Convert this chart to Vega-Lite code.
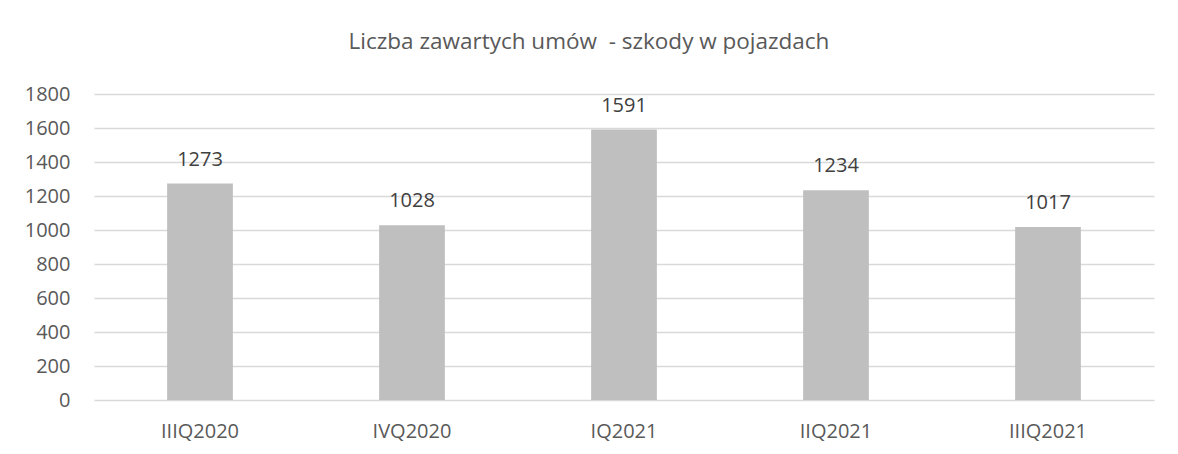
{
  "$schema": "https://vega.github.io/schema/vega-lite/v6.json",
  "autosize": {"type": "none"},
  "width": 1060,
  "height": 306,
  "padding": {"left": 94, "top": 94, "right": 24, "bottom": 54},
  "background": "white",
  "title": {
    "text": "Liczba zawartych umów \u00a0- szkody w pojazdach",
    "anchor": "middle",
    "frame": "group",
    "dx": -35,
    "offset": 31,
    "font": "Open Sans",
    "fontSize": 22.5,
    "fontWeight": "normal",
    "color": "#595959"
  },
  "data": {
    "values": [
      {"kwartal": "IIIQ2020", "liczba": 1273},
      {"kwartal": "IVQ2020", "liczba": 1028},
      {"kwartal": "IQ2021", "liczba": 1591},
      {"kwartal": "IIQ2021", "liczba": 1234},
      {"kwartal": "IIIQ2021", "liczba": 1017}
    ]
  },
  "encoding": {
    "x": {
      "field": "kwartal",
      "type": "nominal",
      "sort": null,
      "scale": {"paddingInner": 0.69, "paddingOuter": 0.345},
      "axis": {
        "title": null,
        "labelAngle": 0,
        "domain": false,
        "ticks": false,
        "labelPadding": 21,
        "labelFont": "Open Sans",
        "labelFontSize": 20,
        "labelColor": "#595959"
      }
    },
    "y": {
      "field": "liczba",
      "type": "quantitative",
      "scale": {"domain": [0, 1800], "nice": false},
      "axis": {
        "title": null,
        "values": [0, 200, 400, 600, 800, 1000, 1200, 1400, 1600, 1800],
        "format": "d",
        "domain": false,
        "ticks": false,
        "labelPadding": 24,
        "labelFont": "Open Sans",
        "labelFontSize": 20,
        "labelColor": "#595959",
        "gridColor": "#D9D9D9",
        "gridWidth": 1.3
      }
    }
  },
  "layer": [
    {"mark": {"type": "bar", "color": "#BFBFBF"}},
    {
      "mark": {
        "type": "text",
        "baseline": "alphabetic",
        "dy": -18,
        "font": "Open Sans",
        "fontSize": 20,
        "color": "#404040"
      },
      "encoding": {"text": {"field": "liczba", "type": "quantitative", "format": "d"}}
    }
  ],
  "config": {"view": {"stroke": null}}
}
